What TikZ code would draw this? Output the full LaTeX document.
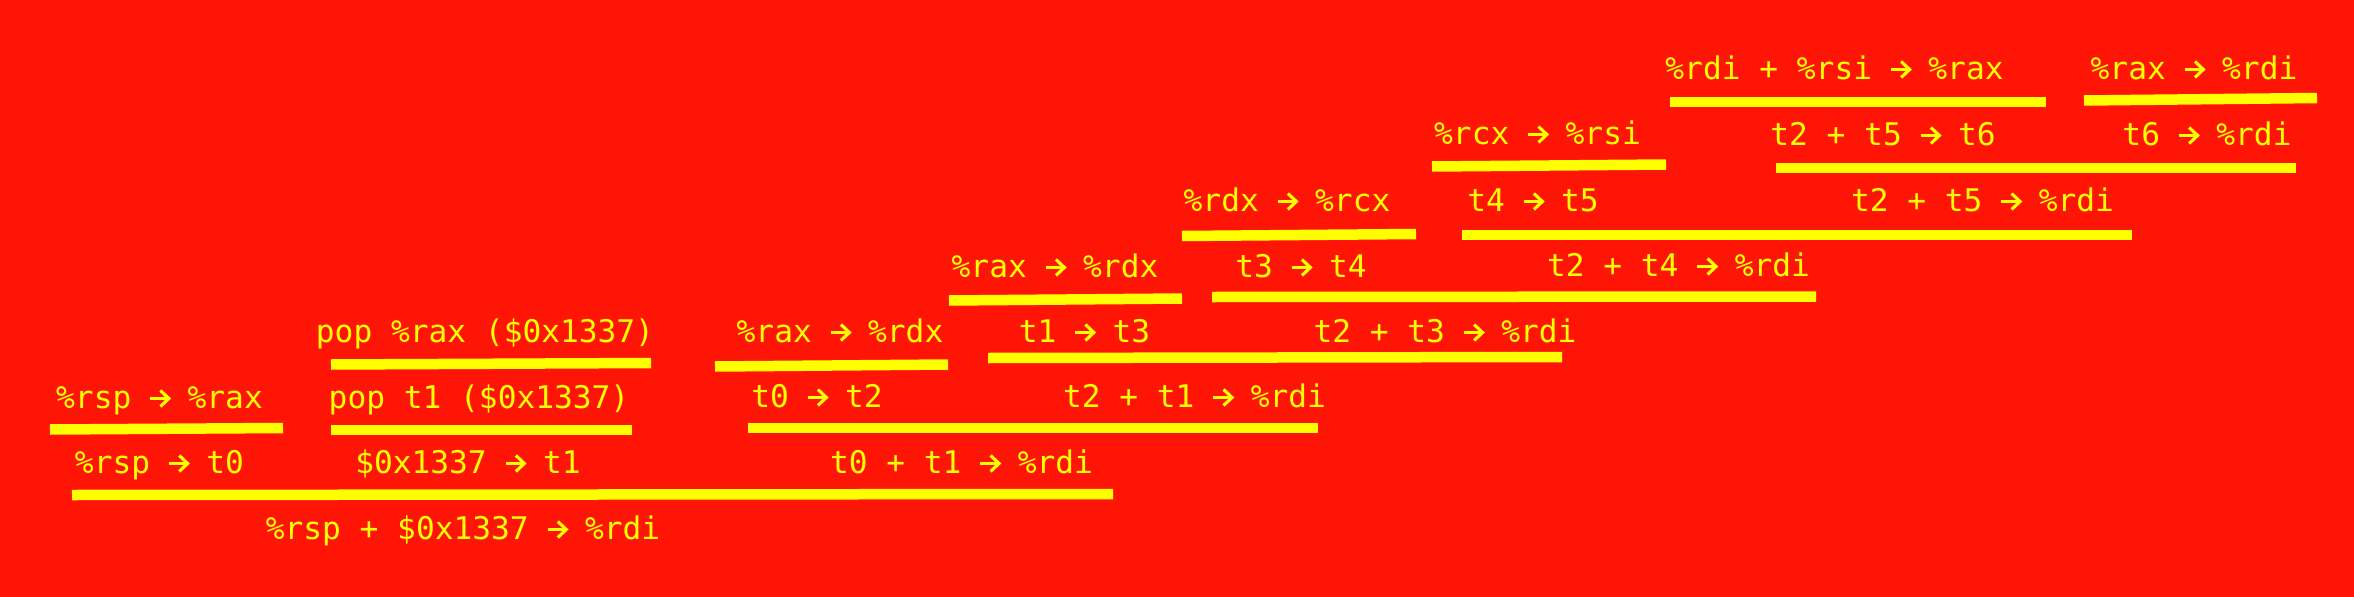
\documentclass[tikz,border=0pt]{standalone}
\usepackage{fontspec}
\setmainfont{DejaVu Sans Mono}
\definecolor{bgred}{RGB}{255,21,5}
\definecolor{ylw}{RGB}{255,255,0}
\tikzset{
  lbl/.style={anchor=base, inner sep=0pt, outer sep=0pt, text=ylw,
              font=\fontsize{31.2pt}{36pt}\selectfont},
  bar/.style={draw=ylw, line width=10.5pt},
  arrstroke/.style={draw=ylw, line width=0.1em}
}
\newcommand{\arr}{\makebox[0.602em][c]{\tikz[baseline=0pt,x=1em,y=1em]{%
  \draw[arrstroke] (-0.02,0.305) -- (0.56,0.305);%
  \draw[arrstroke,line join=miter] (0.31,0.56) -- (0.58,0.305) -- (0.31,0.05);}}}
\begin{document}
\begin{tikzpicture}[x=1pt,y=-1pt]
\fill[bgred] (0,0) rectangle (2354,597);
\useasboundingbox (0,0) rectangle (2354,597);
% row 1
\node[lbl] (n1) at (1834.5,79) {\%rdi + \%rsi \arr{} \%rax};
\node[lbl] (n2) at (2194,79) {\%rax \arr{} \%rdi};
% row 2
\node[lbl] (n3) at (1537.5,144) {\%rcx \arr{} \%rsi};
\node[lbl] (n4) at (1883,145) {t2 + t5 \arr{} t6};
\node[lbl] (n5) at (2207,145) {t6 \arr{} \%rdi};
% row 3
\node[lbl] (n6) at (1287,211) {\%rdx \arr{} \%rcx};
\node[lbl] (n7) at (1533,211) {t4 \arr{} t5};
\node[lbl] (n8) at (1982.5,211) {t2 + t5 \arr{} \%rdi};
% row 4
\node[lbl] (n9) at (1055,277) {\%rax \arr{} \%rdx};
\node[lbl] (n10) at (1301,277) {t3 \arr{} t4};
\node[lbl] (n11) at (1678.5,276) {t2 + t4 \arr{} \%rdi};
% row 5
\node[lbl] (n12) at (485,342) {pop \%rax (\$0x1337)};
\node[lbl] (n13) at (840,342) {\%rax \arr{} \%rdx};
\node[lbl] (n14) at (1084.5,342) {t1 \arr{} t3};
\node[lbl] (n15) at (1445,342) {t2 + t3 \arr{} \%rdi};
% row 6
\node[lbl] (n16) at (159.5,408) {\%rsp \arr{} \%rax};
\node[lbl] (n17) at (479,408) {pop t1 (\$0x1337)};
\node[lbl] (n18) at (817,407) {t0 \arr{} t2};
\node[lbl] (n19) at (1194.5,407) {t2 + t1 \arr{} \%rdi};
% row 7
\node[lbl] (n20) at (159.5,473) {\%rsp \arr{} t0};
\node[lbl] (n21) at (468,473) {\$0x1337 \arr{} t1};
\node[lbl] (n22) at (961.5,473) {t0 + t1 \arr{} \%rdi};
% row 8
\node[lbl] (n23) at (463,539) {\%rsp + \$0x1337 \arr{} \%rdi};
% bars
\draw[bar] (1670,102) -- (2046,102);
\draw[bar] (2084,100.5) -- (2317,98);
\draw[bar] (1432,166.5) -- (1666,164.5);
\draw[bar] (1776,168) -- (2296,168);
\draw[bar] (1182,236) -- (1416,234);
\draw[bar] (1462,235) -- (2132,235);
\draw[bar] (949,300.5) -- (1182,298.5);
\draw[bar] (1212,297) -- (1816,296.5);
\draw[bar] (331,364.5) -- (651,363);
\draw[bar] (715,366.5) -- (948,364.5);
\draw[bar] (988,358) -- (1562,357);
\draw[bar] (50,429.5) -- (283,428);
\draw[bar] (331,430) -- (632,430);
\draw[bar] (748,428) -- (1318,428);
\draw[bar] (72,495) -- (1113,494);
\end{tikzpicture}
\end{document}
